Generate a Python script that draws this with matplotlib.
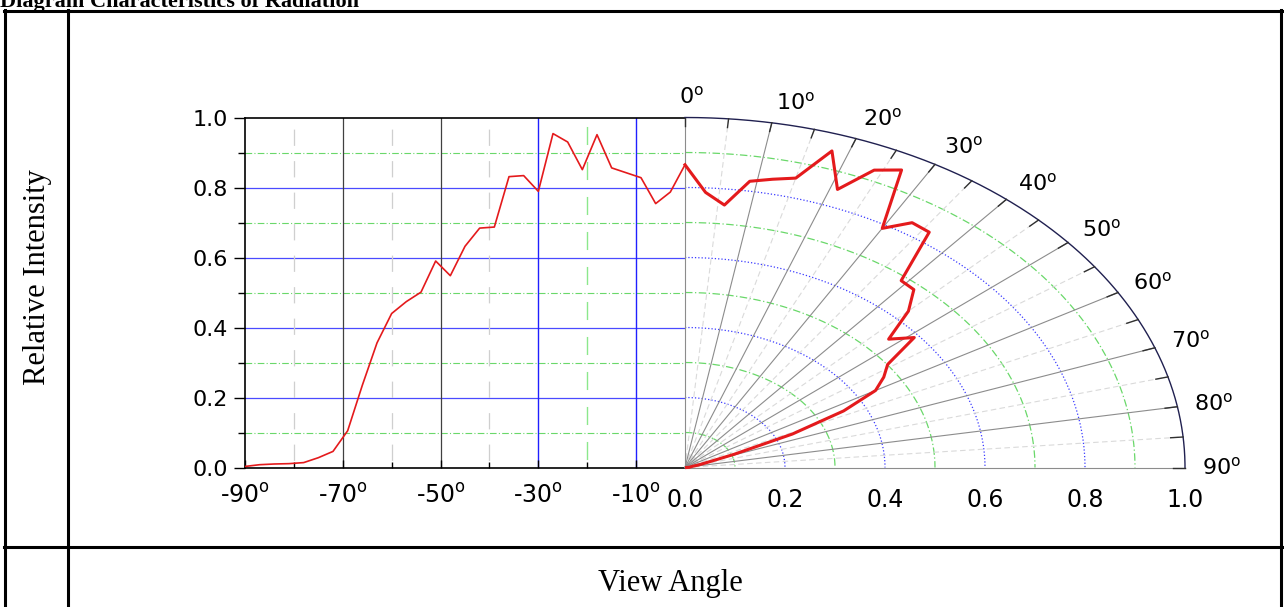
import numpy as np
import matplotlib
matplotlib.use("Agg")
import matplotlib.pyplot as plt
from matplotlib.lines import Line2D

# Relative intensity, 3 degree steps.
# The polar half on the right is the same curve mirrored (|angle|).
view_angle = [-90, -87, -84, -81, -78, -75, -72, -69, -66, -63, -60,
              -57, -54, -51, -48, -45, -42, -39, -36, -33, -30,
              -27, -24, -21, -18, -15, -12, -9, -6, -3, 0]
intensity = [0.003, 0.008, 0.010, 0.011, 0.014, 0.028, 0.046, 0.105, 0.235, 0.356, 0.440,
             0.474, 0.501, 0.590, 0.548, 0.632, 0.684, 0.687, 0.831, 0.834, 0.789,
             0.954, 0.930, 0.851, 0.951, 0.856, 0.842, 0.828, 0.754, 0.787, 0.865]

y_ticks = [0.0, 0.2, 0.4, 0.6, 0.8, 1.0]
x_ticks = [-90, -70, -50, -30, -10]
radial_ticks = [0.0, 0.2, 0.4, 0.6, 0.8, 1.0]
polar_angles = [0, 10, 20, 30, 40, 50, 60, 70, 80, 90]

W, H = 1284, 607
plt.rcParams['font.family'] = 'DejaVu Sans'
plt.rcParams['mathtext.fontset'] = 'dejavusans'

fig = plt.figure(figsize=(W / 100, H / 100), dpi=100)


def box(x0, y0, w, h):
    # pixel box measured from the top-left corner -> figure fraction
    return [x0 / W, 1 - (y0 + h) / H, w / W, h / H]


def deg(s):
    return s + r'$^{\mathrm{o}}$'


red = '#e41a1c'
blue_major = '#4a4aff'
green_minor = '#6ad86a'

# ---------------- left cartesian part ----------------
ax = fig.add_axes(box(245, 117.5, 440, 350))
ax.set_xlim(-90, 0)
ax.set_ylim(0, 1)

for y in [0.2, 0.4, 0.6, 0.8]:
    ax.axhline(y, color=blue_major, lw=0.9, zorder=1)
for y in [0.1, 0.3, 0.5, 0.7, 0.9]:
    ax.axhline(y, color=green_minor, lw=0.8, ls=(0, (6, 2, 1, 2)), zorder=1)
for x in [-70, -50]:
    ax.axvline(x, color='#404040', lw=0.9, zorder=1)
for x in [-30, -10]:
    ax.axvline(x, color='#2020ff', lw=1.0, zorder=1)
for x in [-80, -60, -40]:
    ax.axvline(x, color='#cfcfcf', lw=0.9, ls=(19.1, (13, 12.2)), zorder=1)
ax.axvline(-20, color='#8ce88c', lw=1.0, ls=(19.1, (13, 12.2)), zorder=1)

ax.plot(view_angle, intensity, color=red, lw=1.2, zorder=5)

for side in ['left', 'top', 'bottom']:
    ax.spines[side].set_color('black')
    ax.spines[side].set_linewidth(1.2)
ax.spines['right'].set_visible(False)

ax.set_yticks(y_ticks)
ax.set_yticklabels(['%.1f' % v for v in y_ticks])
ax.set_yticks([0.1, 0.3, 0.5, 0.7, 0.9], minor=True)
ax.set_xticks(x_ticks)
ax.set_xticklabels([deg(str(v)) for v in x_ticks])
ax.set_xticks([-80, -60, -40, -20], minor=True)
ax.tick_params(axis='y', which='major', direction='out', length=8, width=1, pad=4, labelsize=16)
ax.tick_params(axis='y', which='minor', direction='out', length=5, width=1)
ax.tick_params(axis='x', which='major', direction='in', length=6, width=1, pad=12, labelsize=17)
ax.tick_params(axis='x', which='minor', direction='in', length=4, width=1)

# ---------------- right polar (quarter) part ----------------
axp = fig.add_axes(box(685, 117.5, 500, 350))
axp.set_xlim(0, 1)
axp.set_ylim(0, 1)
axp.axis('off')

t = np.linspace(0, np.pi / 2, 300)
for r in [0.1, 0.3, 0.5, 0.7, 0.9]:
    axp.plot(r * np.sin(t), r * np.cos(t), color=green_minor, lw=0.9,
             ls=(0, (6, 2, 1, 2)), zorder=1)
for r in [0.2, 0.4, 0.6, 0.8]:
    axp.plot(r * np.sin(t), r * np.cos(t), color='#3a3aff', lw=0.9, ls=':', zorder=1)
axp.plot(np.sin(t), np.cos(t), color='#202050', lw=1.0, zorder=3, clip_on=False)

for a in range(5, 90, 10):
    ar = np.radians(a)
    axp.plot([0, np.sin(ar)], [0, np.cos(ar)], color='#dadada', lw=0.8,
             ls=(0, (5, 3)), zorder=1)
for a in range(0, 91, 10):
    ar = np.radians(a)
    axp.plot([0, np.sin(ar)], [0, np.cos(ar)], color='#8c8c8c', lw=0.8, zorder=2,
             clip_on=False)
for a in range(0, 91, 5):
    ar = np.radians(a)
    axp.plot([0.975 * np.sin(ar), np.sin(ar)], [0.975 * np.cos(ar), np.cos(ar)],
             color='#303030', lw=1.0, zorder=3, clip_on=False)

th = np.radians(np.abs(view_angle))
rr = np.array(intensity)
axp.plot(rr * np.sin(th), rr * np.cos(th), color=red, lw=2.2, zorder=6, clip_on=False)

for r in radial_ticks:
    axp.text(r, -0.058, '%.1f' % r, ha='center', va='top', fontsize=17)

for a in polar_angles:
    ar = np.radians(a)
    if a == 0:
        axp.text(0.012, 1.06, deg(str(a)), ha='center', va='center', fontsize=16,
                 clip_on=False)
    else:
        axp.text(1.03 * np.sin(ar) + 0.004, 1.06 * np.cos(ar), deg(str(a)),
                 ha='left', va='center', fontsize=16, clip_on=False)

# ---------------- surrounding table ----------------
def hline(x0, x1, y):
    fig.add_artist(Line2D([x0 / W, x1 / W], [1 - y / H, 1 - y / H],
                          transform=fig.transFigure, color='black', lw=2.2))


def vline(x, y0, y1):
    fig.add_artist(Line2D([x / W, x / W], [1 - y0 / H, 1 - y1 / H],
                          transform=fig.transFigure, color='black', lw=2.2))


hline(4, 1282, 11)
hline(4, 1282, 547)
vline(5, 10, 607)
vline(68, 10, 607)
vline(1281, 10, 607)

# the title sits partly above the top edge, as in the source screenshot
fig.text(0.0, 1 - 7 / H, 'Diagram Characteristics of Radiation', ha='left',
         va='baseline', family='Liberation Serif', weight='bold', fontsize=16)
fig.text(38 / W, 1 - 277 / H, 'Relative Intensity', rotation=90, ha='center',
         va='center', family='Liberation Serif', fontsize=22)
fig.text(670 / W, 1 - 583 / H, 'View Angle', ha='center', va='center',
         family='Liberation Serif', fontsize=22)

fig.savefig('out.png', dpi=100)
